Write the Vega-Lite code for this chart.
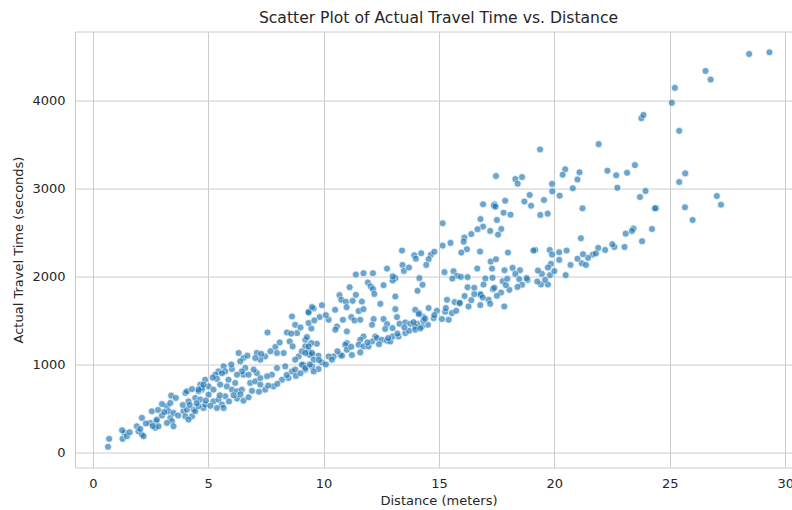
{
  "$schema": "https://vega.github.io/schema/vega-lite/v6.json",
  "width": 727,
  "height": 436,
  "autosize": {"type": "none"},
  "padding": {"left": 75, "top": 31.5, "right": 0, "bottom": 42.5},
  "background": "white",
  "title": {
    "text": "Scatter Plot of Actual Travel Time vs. Distance",
    "font": "DejaVu Sans",
    "fontSize": 15.6,
    "fontWeight": "normal",
    "color": "#262626",
    "anchor": "middle",
    "frame": "group",
    "offset": 4.5
  },
  "config": {
    "view": {"stroke": "#cccccc", "strokeWidth": 1},
    "axis": {
      "domain": false,
      "ticks": false,
      "tickSize": 0,
      "grid": true,
      "gridColor": "#cccccc",
      "gridWidth": 1,
      "labelFont": "DejaVu Sans",
      "labelFontSize": 13,
      "labelColor": "#262626",
      "labelPadding": 10,
      "titleFont": "DejaVu Sans",
      "titleFontSize": 13,
      "titleFontWeight": "normal",
      "titleColor": "#262626"
    }
  },
  "data": {
    "values": [
      {"distance": 28.44, "travel_time": 4525}, {"distance": 29.32, "travel_time": 4544}, {"distance": 26.55, "travel_time": 4332}, {"distance": 26.77, "travel_time": 4234},
      {"distance": 25.22, "travel_time": 4140}, {"distance": 25.09, "travel_time": 3970}, {"distance": 25.41, "travel_time": 3652}, {"distance": 25.67, "travel_time": 3169},
      {"distance": 25.41, "travel_time": 3071}, {"distance": 27.04, "travel_time": 2912}, {"distance": 27.22, "travel_time": 2814}, {"distance": 25.66, "travel_time": 2784},
      {"distance": 25.99, "travel_time": 2640}, {"distance": 24.40, "travel_time": 2773}, {"distance": 23.77, "travel_time": 3796}, {"distance": 23.86, "travel_time": 3833},
      {"distance": 21.92, "travel_time": 3501}, {"distance": 19.38, "travel_time": 3441}, {"distance": 23.49, "travel_time": 3263}, {"distance": 23.15, "travel_time": 3176},
      {"distance": 22.68, "travel_time": 3147}, {"distance": 22.73, "travel_time": 3006}, {"distance": 20.47, "travel_time": 3215}, {"distance": 20.36, "travel_time": 3154},
      {"distance": 21.09, "travel_time": 3181}, {"distance": 19.91, "travel_time": 2965}, {"distance": 20.23, "travel_time": 2916}, {"distance": 19.55, "travel_time": 2867},
      {"distance": 19.39, "travel_time": 2697}, {"distance": 19.71, "travel_time": 2712}, {"distance": 21.22, "travel_time": 2773}, {"distance": 23.95, "travel_time": 2969},
      {"distance": 23.71, "travel_time": 2901}, {"distance": 24.36, "travel_time": 2773}, {"distance": 24.23, "travel_time": 2538}, {"distance": 23.80, "travel_time": 2399},
      {"distance": 23.43, "travel_time": 2542}, {"distance": 23.36, "travel_time": 2516}, {"distance": 23.09, "travel_time": 2485}, {"distance": 23.04, "travel_time": 2334},
      {"distance": 22.60, "travel_time": 2334}, {"distance": 22.51, "travel_time": 2365}, {"distance": 21.90, "travel_time": 2323}, {"distance": 21.67, "travel_time": 2247},
      {"distance": 21.46, "travel_time": 2210}, {"distance": 21.24, "travel_time": 2252}, {"distance": 21.19, "travel_time": 2149}, {"distance": 21.37, "travel_time": 2130},
      {"distance": 21.15, "travel_time": 2433}, {"distance": 20.53, "travel_time": 2293}, {"distance": 20.21, "travel_time": 2274}, {"distance": 19.80, "travel_time": 2300},
      {"distance": 19.90, "travel_time": 2247}, {"distance": 20.21, "travel_time": 2187}, {"distance": 19.85, "travel_time": 2142}, {"distance": 19.72, "travel_time": 2100},
      {"distance": 20.49, "travel_time": 2014}, {"distance": 19.81, "travel_time": 2014}, {"distance": 19.46, "travel_time": 2028}, {"distance": 19.29, "travel_time": 2066},
      {"distance": 19.72, "travel_time": 1907}, {"distance": 19.42, "travel_time": 1907}, {"distance": 19.26, "travel_time": 1941}, {"distance": 19.17, "travel_time": 2300},
      {"distance": 17.47, "travel_time": 3139}, {"distance": 18.31, "travel_time": 3105}, {"distance": 18.60, "travel_time": 3127}, {"distance": 18.41, "travel_time": 3052},
      {"distance": 18.93, "travel_time": 2924}, {"distance": 17.87, "travel_time": 2859}, {"distance": 17.41, "travel_time": 2818}, {"distance": 16.91, "travel_time": 2818},
      {"distance": 17.38, "travel_time": 2802}, {"distance": 17.45, "travel_time": 2791}, {"distance": 18.99, "travel_time": 2802}, {"distance": 17.80, "travel_time": 2723},
      {"distance": 17.51, "travel_time": 2640}, {"distance": 17.70, "travel_time": 2538}, {"distance": 17.22, "travel_time": 2516}, {"distance": 16.91, "travel_time": 2565},
      {"distance": 16.67, "travel_time": 2535}, {"distance": 17.56, "travel_time": 2474}, {"distance": 15.16, "travel_time": 2603}, {"distance": 16.10, "travel_time": 2440},
      {"distance": 16.07, "travel_time": 2394}, {"distance": 16.21, "travel_time": 2308}, {"distance": 15.97, "travel_time": 2270}, {"distance": 15.16, "travel_time": 2349},
      {"distance": 16.78, "travel_time": 2281}, {"distance": 17.99, "travel_time": 2270}, {"distance": 19.09, "travel_time": 2293}, {"distance": 14.23, "travel_time": 2263},
      {"distance": 14.65, "travel_time": 2244}, {"distance": 14.55, "travel_time": 2195}, {"distance": 14.45, "travel_time": 2130}, {"distance": 17.24, "travel_time": 2168},
      {"distance": 17.47, "travel_time": 2195}, {"distance": 16.66, "travel_time": 2088}, {"distance": 17.30, "travel_time": 2088}, {"distance": 17.84, "travel_time": 2070},
      {"distance": 18.19, "travel_time": 2096}, {"distance": 18.51, "travel_time": 2070}, {"distance": 18.31, "travel_time": 2028}, {"distance": 15.24, "travel_time": 2048},
      {"distance": 15.63, "travel_time": 2059}, {"distance": 15.78, "travel_time": 2006}, {"distance": 15.95, "travel_time": 1994}, {"distance": 16.24, "travel_time": 1991},
      {"distance": 15.58, "travel_time": 1975}, {"distance": 17.01, "travel_time": 1975}, {"distance": 17.32, "travel_time": 1983}, {"distance": 17.76, "travel_time": 1945},
      {"distance": 17.96, "travel_time": 1972}, {"distance": 18.48, "travel_time": 1968}, {"distance": 18.60, "travel_time": 1904}, {"distance": 18.84, "travel_time": 1960},
      {"distance": 16.24, "travel_time": 1877}, {"distance": 16.53, "travel_time": 1870}, {"distance": 16.93, "travel_time": 1907}, {"distance": 17.34, "travel_time": 1855},
      {"distance": 17.69, "travel_time": 1816}, {"distance": 18.05, "travel_time": 1847}, {"distance": 16.79, "travel_time": 1798}, {"distance": 16.81, "travel_time": 1790},
      {"distance": 16.53, "travel_time": 1798}, {"distance": 16.11, "travel_time": 1776}, {"distance": 17.51, "travel_time": 1779}, {"distance": 17.15, "travel_time": 1734},
      {"distance": 15.35, "travel_time": 1734}, {"distance": 15.68, "travel_time": 1708}, {"distance": 15.89, "travel_time": 1692}, {"distance": 16.28, "travel_time": 1658},
      {"distance": 16.79, "travel_time": 1674}, {"distance": 17.22, "travel_time": 1688}, {"distance": 17.83, "travel_time": 1658}, {"distance": 14.55, "travel_time": 1640},
      {"distance": 14.91, "travel_time": 1609}, {"distance": 15.27, "travel_time": 1598}, {"distance": 15.56, "travel_time": 1583}, {"distance": 15.75, "travel_time": 1609},
      {"distance": 15.42, "travel_time": 1507}, {"distance": 15.13, "travel_time": 1515}, {"distance": 14.77, "travel_time": 1526}, {"distance": 14.33, "travel_time": 1538},
      {"distance": 14.15, "travel_time": 1583}, {"distance": 14.52, "travel_time": 1450}, {"distance": 14.26, "travel_time": 1431}, {"distance": 14.05, "travel_time": 1462},
      {"distance": 13.40, "travel_time": 2293}, {"distance": 13.93, "travel_time": 2240}, {"distance": 13.42, "travel_time": 2130}, {"distance": 13.48, "travel_time": 2062},
      {"distance": 12.75, "travel_time": 2088}, {"distance": 11.40, "travel_time": 2021}, {"distance": 11.73, "travel_time": 2036}, {"distance": 12.14, "travel_time": 2036},
      {"distance": 13.11, "travel_time": 1980}, {"distance": 12.99, "travel_time": 1952}, {"distance": 11.92, "travel_time": 1930}, {"distance": 12.04, "travel_time": 1885},
      {"distance": 12.14, "travel_time": 1855}, {"distance": 14.15, "travel_time": 1980}, {"distance": 14.29, "travel_time": 1904}, {"distance": 14.07, "travel_time": 1836},
      {"distance": 11.13, "travel_time": 1877}, {"distance": 10.69, "travel_time": 1787}, {"distance": 10.77, "travel_time": 1734}, {"distance": 10.97, "travel_time": 1711},
      {"distance": 11.26, "travel_time": 1722}, {"distance": 11.66, "travel_time": 1714}, {"distance": 12.46, "travel_time": 1688}, {"distance": 13.11, "travel_time": 1771},
      {"distance": 11.52, "travel_time": 1606}, {"distance": 11.73, "travel_time": 1628}, {"distance": 13.11, "travel_time": 1628}, {"distance": 13.18, "travel_time": 1538},
      {"distance": 13.97, "travel_time": 1620}, {"distance": 14.12, "travel_time": 1572}, {"distance": 9.93, "travel_time": 1673}, {"distance": 9.57, "travel_time": 1635},
      {"distance": 9.35, "travel_time": 1598}, {"distance": 9.83, "travel_time": 1538}, {"distance": 10.22, "travel_time": 1507}, {"distance": 10.84, "travel_time": 1507},
      {"distance": 11.20, "travel_time": 1538}, {"distance": 11.34, "travel_time": 1499}, {"distance": 11.59, "travel_time": 1507}, {"distance": 12.17, "travel_time": 1515},
      {"distance": 12.60, "travel_time": 1515}, {"distance": 12.10, "travel_time": 1450}, {"distance": 12.75, "travel_time": 1458}, {"distance": 12.67, "travel_time": 1402},
      {"distance": 12.99, "travel_time": 1413}, {"distance": 13.29, "travel_time": 1462}, {"distance": 13.54, "travel_time": 1477}, {"distance": 13.76, "travel_time": 1462},
      {"distance": 13.97, "travel_time": 1431}, {"distance": 14.33, "travel_time": 1496}, {"distance": 9.47, "travel_time": 1409}, {"distance": 10.58, "travel_time": 1431},
      {"distance": 11.01, "travel_time": 1375}, {"distance": 12.24, "travel_time": 1318}, {"distance": 11.73, "travel_time": 1318}, {"distance": 11.59, "travel_time": 1280},
      {"distance": 11.52, "travel_time": 1224}, {"distance": 11.73, "travel_time": 1205}, {"distance": 11.95, "travel_time": 1205}, {"distance": 12.10, "travel_time": 1261},
      {"distance": 12.31, "travel_time": 1300}, {"distance": 12.53, "travel_time": 1280}, {"distance": 12.75, "travel_time": 1269}, {"distance": 12.89, "travel_time": 1261},
      {"distance": 12.99, "travel_time": 1318}, {"distance": 13.25, "travel_time": 1318}, {"distance": 13.54, "travel_time": 1356}, {"distance": 13.71, "travel_time": 1382},
      {"distance": 13.97, "travel_time": 1394}, {"distance": 14.19, "travel_time": 1409}, {"distance": 11.01, "travel_time": 1243}, {"distance": 10.94, "travel_time": 1224},
      {"distance": 11.01, "travel_time": 1167}, {"distance": 10.72, "travel_time": 1110}, {"distance": 10.43, "travel_time": 1091}, {"distance": 10.22, "travel_time": 1091},
      {"distance": 9.78, "travel_time": 1099}, {"distance": 9.50, "travel_time": 1110}, {"distance": 9.21, "travel_time": 1280}, {"distance": 9.21, "travel_time": 1205},
      {"distance": 9.35, "travel_time": 1148}, {"distance": 9.71, "travel_time": 1235}, {"distance": 10.51, "travel_time": 1394}, {"distance": 9.13, "travel_time": 997},
      {"distance": 9.21, "travel_time": 941}, {"distance": 9.78, "travel_time": 948}, {"distance": 9.93, "travel_time": 1023}, {"distance": 10.36, "travel_time": 1054},
      {"distance": 10.80, "travel_time": 1099}, {"distance": 11.23, "travel_time": 1107}, {"distance": 11.59, "travel_time": 1137}, {"distance": 9.39, "travel_time": 1110},
      {"distance": 8.63, "travel_time": 1545}, {"distance": 9.35, "travel_time": 1590}, {"distance": 9.50, "travel_time": 1651}, {"distance": 8.77, "travel_time": 1450},
      {"distance": 8.85, "travel_time": 1356}, {"distance": 9.35, "travel_time": 1470}, {"distance": 9.28, "travel_time": 1311}, {"distance": 9.47, "travel_time": 1243},
      {"distance": 8.41, "travel_time": 1363}, {"distance": 8.53, "travel_time": 1261}, {"distance": 8.66, "travel_time": 1205}, {"distance": 7.57, "travel_time": 1363},
      {"distance": 7.91, "travel_time": 1198}, {"distance": 8.27, "travel_time": 1130}, {"distance": 7.98, "travel_time": 1130}, {"distance": 7.47, "travel_time": 1091},
      {"distance": 7.26, "travel_time": 1054}, {"distance": 7.11, "travel_time": 1130}, {"distance": 7.04, "travel_time": 1073}, {"distance": 6.32, "travel_time": 1130},
      {"distance": 6.53, "travel_time": 1073}, {"distance": 6.39, "travel_time": 1035}, {"distance": 6.61, "travel_time": 960}, {"distance": 6.53, "travel_time": 884},
      {"distance": 6.46, "travel_time": 921}, {"distance": 6.03, "travel_time": 948}, {"distance": 5.67, "travel_time": 978}, {"distance": 5.74, "travel_time": 921},
      {"distance": 5.45, "travel_time": 921}, {"distance": 5.31, "travel_time": 884}, {"distance": 5.38, "travel_time": 835}, {"distance": 4.87, "travel_time": 827},
      {"distance": 4.66, "travel_time": 771}, {"distance": 5.02, "travel_time": 751}, {"distance": 4.73, "travel_time": 714}, {"distance": 5.88, "travel_time": 827},
      {"distance": 5.81, "travel_time": 751}, {"distance": 6.03, "travel_time": 714}, {"distance": 6.25, "travel_time": 695}, {"distance": 6.46, "travel_time": 714},
      {"distance": 6.82, "travel_time": 790}, {"distance": 7.04, "travel_time": 808}, {"distance": 7.26, "travel_time": 771}, {"distance": 7.47, "travel_time": 714},
      {"distance": 7.83, "travel_time": 751}, {"distance": 8.20, "travel_time": 827}, {"distance": 8.48, "travel_time": 846}, {"distance": 8.63, "travel_time": 921},
      {"distance": 8.77, "travel_time": 941}, {"distance": 9.06, "travel_time": 997}, {"distance": 9.21, "travel_time": 960}, {"distance": 9.50, "travel_time": 978},
      {"distance": 9.57, "travel_time": 921}, {"distance": 8.34, "travel_time": 978}, {"distance": 7.98, "travel_time": 960}, {"distance": 7.76, "travel_time": 884},
      {"distance": 7.55, "travel_time": 865}, {"distance": 7.26, "travel_time": 846}, {"distance": 7.11, "travel_time": 903}, {"distance": 6.97, "travel_time": 941},
      {"distance": 6.75, "travel_time": 884}, {"distance": 6.25, "travel_time": 884}, {"distance": 6.17, "travel_time": 790}, {"distance": 5.52, "travel_time": 771},
      {"distance": 5.23, "travel_time": 714}, {"distance": 5.02, "travel_time": 657}, {"distance": 4.58, "travel_time": 695}, {"distance": 8.92, "travel_time": 1091},
      {"distance": 8.77, "travel_time": 1054}, {"distance": 9.06, "travel_time": 1148}, {"distance": 9.21, "travel_time": 1130}, {"distance": 9.35, "travel_time": 1205},
      {"distance": 9.50, "travel_time": 1130}, {"distance": 9.57, "travel_time": 1054}, {"distance": 4.30, "travel_time": 411}, {"distance": 4.37, "travel_time": 487},
      {"distance": 4.80, "travel_time": 506}, {"distance": 4.87, "travel_time": 544}, {"distance": 5.23, "travel_time": 581}, {"distance": 5.45, "travel_time": 601},
      {"distance": 5.60, "travel_time": 544}, {"distance": 5.67, "travel_time": 506}, {"distance": 5.38, "travel_time": 506}, {"distance": 5.74, "travel_time": 638},
      {"distance": 6.25, "travel_time": 612}, {"distance": 6.53, "travel_time": 589}, {"distance": 6.75, "travel_time": 627}, {"distance": 0.66, "travel_time": 65},
      {"distance": 0.71, "travel_time": 155}, {"distance": 1.29, "travel_time": 155}, {"distance": 1.38, "travel_time": 223}, {"distance": 1.48, "travel_time": 185},
      {"distance": 1.27, "travel_time": 253}, {"distance": 1.91, "travel_time": 298}, {"distance": 1.98, "travel_time": 241}, {"distance": 2.13, "travel_time": 204},
      {"distance": 2.06, "travel_time": 268}, {"distance": 2.20, "travel_time": 185}, {"distance": 2.13, "travel_time": 393}, {"distance": 2.56, "travel_time": 468},
      {"distance": 2.49, "travel_time": 336}, {"distance": 2.74, "travel_time": 355}, {"distance": 2.71, "travel_time": 280}, {"distance": 2.85, "travel_time": 298},
      {"distance": 2.78, "travel_time": 374}, {"distance": 2.83, "travel_time": 483}, {"distance": 3.21, "travel_time": 525}, {"distance": 3.28, "travel_time": 468},
      {"distance": 3.36, "travel_time": 393}, {"distance": 3.43, "travel_time": 355}, {"distance": 3.50, "travel_time": 298}, {"distance": 3.21, "travel_time": 336},
      {"distance": 3.36, "travel_time": 563}, {"distance": 3.40, "travel_time": 646}, {"distance": 3.93, "travel_time": 468}, {"distance": 4.01, "travel_time": 411},
      {"distance": 4.08, "travel_time": 487}, {"distance": 4.15, "travel_time": 374}, {"distance": 4.44, "travel_time": 468}, {"distance": 4.58, "travel_time": 525},
      {"distance": 4.01, "travel_time": 676}, {"distance": 4.08, "travel_time": 695}, {"distance": 4.44, "travel_time": 620}, {"distance": 4.66, "travel_time": 601},
      {"distance": 4.73, "travel_time": 733}, {"distance": 4.58, "travel_time": 714}, {"distance": 4.80, "travel_time": 771}, {"distance": 4.15, "travel_time": 581},
      {"distance": 1.6, "travel_time": 230}, {"distance": 2.3, "travel_time": 330}, {"distance": 2.6, "travel_time": 300}, {"distance": 3.0, "travel_time": 420},
      {"distance": 3.1, "travel_time": 460}, {"distance": 3.5, "travel_time": 450}, {"distance": 3.7, "travel_time": 420}, {"distance": 3.9, "travel_time": 540},
      {"distance": 4.2, "travel_time": 540}, {"distance": 4.5, "travel_time": 560}, {"distance": 4.9, "travel_time": 590}, {"distance": 5.1, "travel_time": 530},
      {"distance": 5.5, "travel_time": 650}, {"distance": 5.9, "travel_time": 580}, {"distance": 6.1, "travel_time": 650}, {"distance": 6.4, "travel_time": 660},
      {"distance": 6.9, "travel_time": 700}, {"distance": 7.2, "travel_time": 690}, {"distance": 7.6, "travel_time": 760}, {"distance": 8.0, "travel_time": 780},
      {"distance": 8.4, "travel_time": 880}, {"distance": 8.8, "travel_time": 870}, {"distance": 9.0, "travel_time": 900}, {"distance": 9.4, "travel_time": 1000},
      {"distance": 9.8, "travel_time": 1050}, {"distance": 10.1, "travel_time": 1000}, {"distance": 10.6, "travel_time": 1150}, {"distance": 11.2, "travel_time": 1200},
      {"distance": 11.9, "travel_time": 1250}, {"distance": 12.4, "travel_time": 1230}, {"distance": 12.8, "travel_time": 1300}, {"distance": 13.2, "travel_time": 1350},
      {"distance": 13.5, "travel_time": 1420}, {"distance": 13.9, "travel_time": 1480}, {"distance": 14.4, "travel_time": 1520}, {"distance": 14.8, "travel_time": 1560},
      {"distance": 15.3, "travel_time": 1640}, {"distance": 15.9, "travel_time": 1700}, {"distance": 16.4, "travel_time": 1730}, {"distance": 16.9, "travel_time": 1760},
      {"distance": 17.4, "travel_time": 1870}, {"distance": 17.9, "travel_time": 1900}, {"distance": 18.4, "travel_time": 1880}, {"distance": 18.8, "travel_time": 1980},
      {"distance": 19.6, "travel_time": 1960}, {"distance": 20.0, "travel_time": 2060}, {"distance": 20.7, "travel_time": 2130}, {"distance": 21.0, "travel_time": 2200},
      {"distance": 21.8, "travel_time": 2260}, {"distance": 22.2, "travel_time": 2300}, {"distance": 3.0, "travel_time": 550}, {"distance": 3.6, "travel_time": 620},
      {"distance": 4.3, "travel_time": 720}, {"distance": 5.2, "travel_time": 850}, {"distance": 5.6, "travel_time": 900}, {"distance": 6.0, "travel_time": 1000},
      {"distance": 6.7, "travel_time": 1100}, {"distance": 7.3, "travel_time": 1120}, {"distance": 7.7, "travel_time": 1150}, {"distance": 8.1, "travel_time": 1250},
      {"distance": 8.6, "travel_time": 1350}, {"distance": 9.0, "travel_time": 1420}, {"distance": 9.6, "travel_time": 1500}, {"distance": 10.1, "travel_time": 1560},
      {"distance": 10.5, "travel_time": 1620}, {"distance": 11.0, "travel_time": 1650}, {"distance": 11.4, "travel_time": 1790}, {"distance": 12.2, "travel_time": 1800},
      {"distance": 12.6, "travel_time": 1900}, {"distance": 13.0, "travel_time": 2000}, {"distance": 13.7, "travel_time": 2100}, {"distance": 14.0, "travel_time": 2200},
      {"distance": 14.8, "travel_time": 2280}, {"distance": 15.5, "travel_time": 2380}, {"distance": 16.4, "travel_time": 2480}, {"distance": 16.8, "travel_time": 2650},
      {"distance": 18.1, "travel_time": 2700}, {"distance": 18.7, "travel_time": 2850}, {"distance": 19.9, "travel_time": 3050}, {"distance": 20.8, "travel_time": 3000},
      {"distance": 21.0, "travel_time": 3100}, {"distance": 22.3, "travel_time": 3200}
    ]
  },
  "mark": {
    "type": "circle",
    "size": 50,
    "color": "#1f77b4",
    "opacity": 0.65,
    "stroke": "white",
    "strokeWidth": 0.75
  },
  "encoding": {
    "x": {
      "field": "distance",
      "type": "quantitative",
      "title": "Distance (meters)",
      "scale": {"domain": [-0.77, 30.73], "nice": false, "zero": false},
      "axis": {"values": [0, 5, 10, 15, 20, 25, 30], "format": "d", "titlePadding": 4}
    },
    "y": {
      "field": "travel_time",
      "type": "quantitative",
      "title": "Actual Travel Time (seconds)",
      "scale": {"domain": [-170, 4780], "nice": false, "zero": false},
      "axis": {"values": [0, 1000, 2000, 3000, 4000], "format": "d", "titlePadding": 6}
    }
  }
}
